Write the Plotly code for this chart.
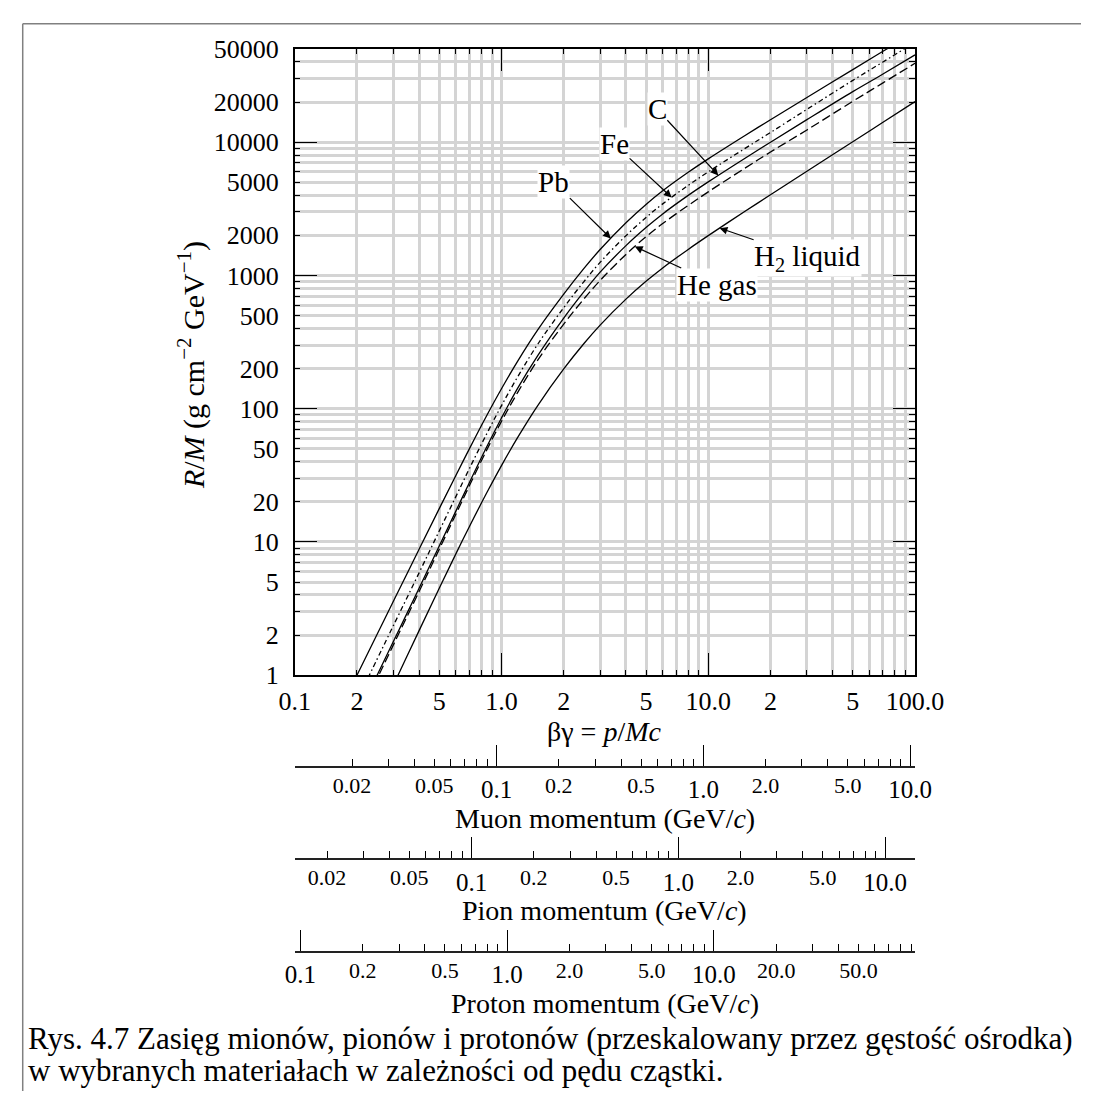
import math
import plotly.graph_objects as go

W, H = 1110, 1106
FONT = "Liberation Serif"

# ---------------- data ----------------
bg = [0.2, 0.25, 0.3, 0.4, 0.5, 0.6, 0.7, 0.85, 1.0, 1.2, 1.5, 2.0, 2.5, 3.0, 4.0, 5.0, 6.0, 8.0,
      10.0, 15.0, 20.0, 30.0, 50.0, 70.0, 100.0]
R_Pb = [1.0, 2.019, 3.584, 8.84, 17.78, 31.28, 50.18, 89.3, 141.1, 228.7, 392.1, 723.8, 1124, 1566,
        2488, 3411, 4302, 5948, 7499, 11180, 14740, 21640, 35060, 48100, 67250]
R_Fe = [0.6435, 1.315, 2.355, 5.886, 12.09, 21.70, 35.61, 65.22, 105.4, 174.5, 305.8, 573.6, 895.6, 1254,
        1988, 2721, 3430, 4742, 5984, 8948, 11820, 17640, 29080, 40010, 56150]
R_C = [0.482, 0.9933, 1.788, 4.505, 9.311, 16.89, 27.95, 51.97, 85.22, 143.2, 251.3, 478.6, 751.8, 1058,
       1674, 2289, 2884, 3988, 5035, 7548, 9988, 14760, 23970, 32490, 45190]
R_He = [0.4535, 0.9365, 1.688, 4.259, 8.812, 15.99, 26.49, 49.27, 80.27, 133.2, 232.4, 431.7, 664.7, 916.9,
        1438, 1952, 2442, 3353, 4238, 6365, 8440, 12350, 20260, 27870, 39100]
R_H2 = [0.2187, 0.4607, 0.8424, 2.17, 4.491, 8.066, 13.07, 23.49, 37.43, 61.19, 106.1, 198.8, 307.2, 424.1,
        664.1, 903.0, 1134, 1568, 1989, 3017, 4033, 6047, 10080, 14110, 20160]

materials = ["Pb", "Fe", "C", "He gas", "H2 liquid"]

# curve labels: text, arrow tip (βγ, R/M), text offset in px
label_text = ["Pb", "Fe", "C", "He gas", "H<sub>2</sub> liquid"]
label_tip_bg = [3.38, 6.65, 11.19, 4.416, 11.35]
label_tip_R = [1897, 3852, 5631, 1647, 2265]
label_dx = [-57, -57, -61, 82, 88]
label_dy = [-56, -53, -66, 38, 30]

# main axis tick labels
x_label_vals = [0.1, 0.2, 0.5, 1, 2, 5, 10, 20, 50, 100]
x_label_text = ["0.1", "2", "5", "1.0", "2", "5", "10.0", "2", "5", "100.0"]
y_label_vals = [1, 2, 5, 10, 20, 50, 100, 200, 500, 1000, 2000, 5000, 10000, 20000, 50000]
y_label_text = ["1", "2", "5", "10", "20", "50", "100", "200", "500", "1000", "2000", "5000",
                "10000", "20000", "50000"]

# momentum scales
mass_muon, mass_pion, mass_proton = 0.10566, 0.13957, 0.93827
mom_major_vals = [0.1, 1, 10]
mom_major_text = ["0.1", "1.0", "10.0"]
muon_minor_vals = [0.02, 0.05, 0.2, 0.5, 2, 5]
muon_minor_text = ["0.02", "0.05", "0.2", "0.5", "2.0", "5.0"]
pion_minor_vals = [0.02, 0.05, 0.2, 0.5, 2, 5]
pion_minor_text = ["0.02", "0.05", "0.2", "0.5", "2.0", "5.0"]
proton_minor_vals = [0.2, 0.5, 2, 5, 20, 50]
proton_minor_text = ["0.2", "0.5", "2.0", "5.0", "20.0", "50.0"]

caption1 = "Rys. 4.7 Zasięg mionów, pionów i protonów (przeskalowany przez gęstość ośrodka)"
caption2 = "w wybranych materiałach w zależności od pędu cząstki."

# ---------------- geometry ----------------
PX0, PX1 = 290.5, 937.0
PY0, PY1 = 36.0, 679.0


def px(x):
    return x / W


def py(y):
    return 1 - y / H


def grid_vals(lo, hi):
    out = []
    for e in range(-3, 6):
        for m in range(1, 10):
            v = round(m * 10.0 ** e, 10)
            if lo * (1 - 1e-9) <= v <= hi * (1 + 1e-9):
                out.append(v)
    return out


def lookup(v, vals, texts):
    for a, t in zip(vals, texts):
        if math.isclose(v, a, rel_tol=1e-6):
            return t
    return ""


fig = go.Figure()

dashes = ["solid", "5px,3px,1.5px,3px", "solid", "9px,4px", "solid"]
for name, r, d in zip(materials, [R_Pb, R_Fe, R_C, R_He, R_H2], dashes):
    fig.add_trace(go.Scatter(x=bg, y=r, mode="lines", name=name,
                             line=dict(color="black", width=1.3, dash=d, shape="spline", smoothing=1.0),
                             showlegend=False, hoverinfo="skip"))

# placeholder traces so that the extra axes exist
for ax in ["x2", "x3", "x4", "x5", "x6", "x7", "x8"]:
    fig.add_trace(go.Scatter(x=[None], y=[None], xaxis=ax, yaxis="y", showlegend=False, hoverinfo="skip"))
fig.add_trace(go.Scatter(x=[None], y=[None], xaxis="x", yaxis="y2", showlegend=False, hoverinfo="skip"))

xvals = grid_vals(0.1, 100)
xtext = [lookup(v, x_label_vals, x_label_text) for v in xvals]
yvals = grid_vals(1, 50000)
ytext = [lookup(v, y_label_vals, y_label_text) for v in yvals]

GRID = "#d4d4d4"
common = dict(zeroline=False, tickcolor="black", tickwidth=1, tickangle=0)

layout = dict(
    width=W, height=H, autosize=False,
    margin=dict(l=0, r=0, t=0, b=0),
    paper_bgcolor="white", plot_bgcolor="white", showlegend=False,
    font=dict(family=FONT, color="black"),
    xaxis=dict(type="log", range=[-1, 2], domain=[px(PX0), px(PX1)], anchor="y",
               tickmode="array", tickvals=xvals, ticktext=xtext, ticks="inside", ticklen=5,
               mirror="ticks", showline=True, linecolor="black", linewidth=1.5,
               showgrid=True, gridcolor=GRID, gridwidth=3,
               tickfont=dict(size=26, family=FONT), ticklabelstandoff=2, **common),
    yaxis=dict(type="log", range=[0, math.log10(50000)], domain=[py(PY1), py(PY0)], anchor="x",
               tickmode="array", tickvals=yvals, ticktext=ytext, ticks="inside", ticklen=6,
               mirror="ticks", showline=True, linecolor="black", linewidth=1.5,
               showgrid=True, gridcolor=GRID, gridwidth=3,
               tickfont=dict(size=26, family=FONT), ticklabelstandoff=9, **common),
    xaxis2=dict(type="log", range=[-1, 2], overlaying="x", anchor="y",
                tickmode="array", tickvals=[1, 10], ticks="inside", ticklen=22, mirror="ticks",
                showline=False, showgrid=False, showticklabels=False, **common),
    yaxis2=dict(type="log", range=[0, math.log10(50000)], overlaying="y", anchor="x",
                tickmode="array", tickvals=[10, 100, 1000, 10000], ticks="inside", ticklen=22,
                mirror="ticks", showline=False, showgrid=False, showticklabels=False, **common),
)


def momentum_axes(mass, ypix, minor_vals, minor_text):
    lo, hi = 0.1 * mass, 100 * mass
    rng = [math.log10(lo), math.log10(hi)]
    minor_ticks = [v for v in grid_vals(lo, hi)
                   if not any(math.isclose(v, m, rel_tol=1e-6) for m in mom_major_vals)]
    pos = py(ypix)
    a = dict(type="log", range=rng, overlaying="x", anchor="free", position=pos, side="bottom",
             tickmode="array", tickvals=mom_major_vals, ticktext=mom_major_text,
             ticks="inside", ticklen=21,
             minor=dict(tickmode="array", tickvals=minor_ticks, ticks="inside", ticklen=7,
                        tickwidth=1, tickcolor="black", showgrid=False),
             showline=True, linecolor="#222222", linewidth=1.5, showgrid=False,
             tickfont=dict(size=25, family=FONT), ticklabelstandoff=1, **common)
    b = dict(type="log", range=rng, overlaying="x", anchor="free", position=pos, side="bottom",
             tickmode="array", tickvals=minor_vals, ticktext=minor_text, ticks="",
             showline=False, showgrid=False,
             tickfont=dict(size=22, family=FONT), ticklabelstandoff=3, **common)
    return a, b


layout["xaxis3"], layout["xaxis4"] = momentum_axes(mass_muon, 773, muon_minor_vals, muon_minor_text)
layout["xaxis5"], layout["xaxis6"] = momentum_axes(mass_pion, 868, pion_minor_vals, pion_minor_text)
layout["xaxis7"], layout["xaxis8"] = momentum_axes(mass_proton, 963, proton_minor_vals, proton_minor_text)

fig.update_layout(**layout)

ann = []
for t, b0, r0, dx, dy in zip(label_text, label_tip_bg, label_tip_R, label_dx, label_dy):
    ann.append(dict(x=math.log10(b0), y=math.log10(r0), xref="x", yref="y", text=t,
                    showarrow=True, arrowhead=2, arrowsize=1.3, arrowwidth=1.2, arrowcolor="black",
                    ax=dx, ay=dy, font=dict(size=29, family=FONT, color="black"),
                    bgcolor="white", borderpad=0, standoff=0))

cx = px((PX0 + PX1) / 2)
titles = [
    ("βγ = <i>p</i>/<i>Mc</i>", 737, 28),
    ("Muon momentum (GeV/<i>c</i>)", 826, 28),
    ("Pion momentum (GeV/<i>c</i>)", 921, 28),
    ("Proton momentum (GeV/<i>c</i>)", 1016, 28),
]
for t, yy, fs in titles:
    ann.append(dict(x=cx, y=py(yy), xref="paper", yref="paper", text=t, showarrow=False,
                    xanchor="center", yanchor="middle", font=dict(size=fs, family=FONT, color="black")))

ann.append(dict(x=px(183), y=py(361), xref="paper", yref="paper", textangle=-90,
                text="<i>R</i>/<i>M</i> (g cm<sup>−2</sup> GeV<sup>−1</sup>)", showarrow=False,
                xanchor="center", yanchor="middle", font=dict(size=30, family=FONT, color="black")))

for t, yy in [(caption1, 1052), (caption2, 1085)]:
    ann.append(dict(x=px(10), y=py(yy), xref="paper", yref="paper", text=t, showarrow=False,
                    xanchor="left", yanchor="middle", font=dict(size=31, family=FONT, color="black")))

fig.update_layout(annotations=ann)

fig.update_layout(shapes=[
    dict(type="line", xref="paper", yref="paper", x0=px(7), x1=px(7), y0=py(10), y1=0,
         line=dict(color="#808080", width=1.5)),
    dict(type="line", xref="paper", yref="paper", x0=px(7), x1=1, y0=py(10), y1=py(10),
         line=dict(color="#808080", width=1.5)),
])

fig.write_html("out.html")
